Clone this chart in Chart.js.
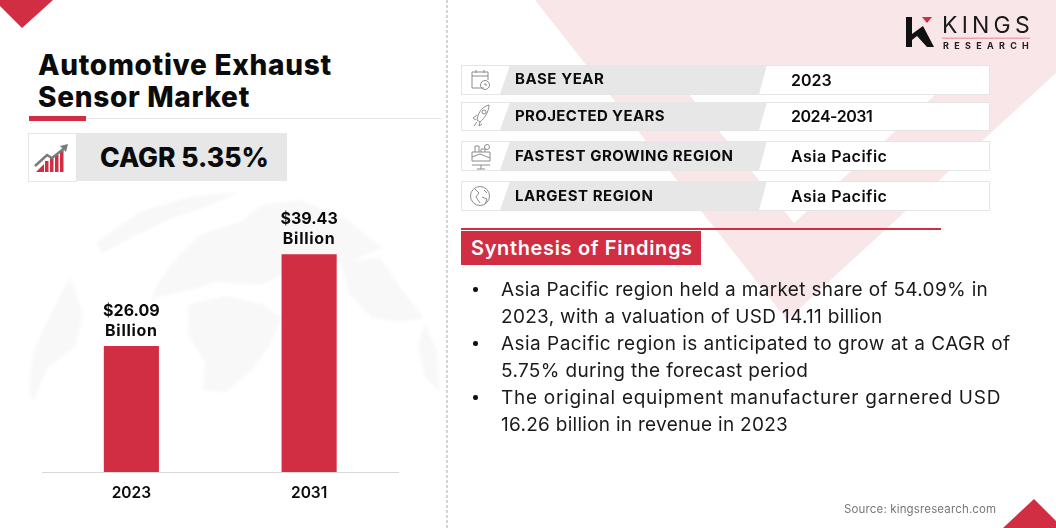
<!DOCTYPE html>
<html>
<head>
<meta charset="utf-8">
<script src="https://cdn.jsdelivr.net/npm/chart.js@4"></script>
<style>
  html, body { margin: 0; padding: 0; background: #fff; }
  body { width: 1056px; height: 528px; position: relative; overflow: hidden; font-family: Inter, sans-serif; color: #0b0b0b; }
  .abs { position: absolute; white-space: nowrap; }
  #art { position: absolute; left: 0; top: 0; }
  #chartBox { position: absolute; left: 0; top: 180px; width: 450px; height: 330px; }
  .title { left: 38px; font-size: 28px; font-weight: 800; line-height: 32px; letter-spacing: 0.7px; }
  .row { position: absolute; left: 460.5px; width: 529px; background: #fff; border: 1px solid #e5e5e5; box-sizing: border-box; }
  .key { left: 515px; font-size: 15px; font-weight: 700; line-height: 20px; letter-spacing: 0.55px; }
  .val { left: 791px; font-size: 16px; font-weight: 600; line-height: 20px; letter-spacing: 0.5px; }
  .line { left: 501px; font-size: 19px; line-height: 27px; color: #1a1a1a; }
  .dot { left: 473px; width: 4.5px; height: 4.5px; border-radius: 50%; background: #111; }
</style>
</head>
<body>
<svg id="art" width="1056" height="528" viewBox="0 0 1056 528">
  <defs><filter id="soft"><feGaussianBlur stdDeviation="1.6"/></filter></defs>
  <!-- pale background shape -->
  <polygon points="535,0 1056,0 1056,73 787,320" fill="#f9e6e8"/>
  <polygon points="666,66 967,66 805,213 794,223" fill="#fff"/>
  <!-- corner triangles -->
  <polygon points="0,0 53,0 22,28 0,6" fill="#d12d43"/>
  <polygon points="1003,528 1034,499 1063,528" fill="#d12d43"/>
  <!-- dashed divider -->
  <line x1="447" y1="0" x2="447" y2="528" stroke="#d4d4d4" stroke-width="2" stroke-dasharray="3 2"/>
  <!-- globe -->
  <g fill="#f8f8f8" filter="url(#soft)">
    <path d="M29 392 L33 352 L52 312 L70 277 L83 313 L76 345 L48 368 L33 402 Z"/>
    <path d="M97 242 L140 212 L190 197 L240 192 L205 207 L170 219 L130 238 L102 254 Z"/>
    <path d="M173 262 L200 235 L240 222 L262 205 L300 200 L345 218 L382 248 L350 262 L320 262 L290 270 L262 285 L215 282 L190 290 L158 297 L150 302 L160 280 Z"/>
    <path d="M188 305 L225 296 L262 304 L282 318 L270 345 L250 372 L225 392 L203 390 L205 362 L188 335 Z"/>
    <path d="M340 262 L380 258 L402 290 L424 318 L400 322 L372 318 L350 295 Z"/>
    <path d="M425 322 L437 352 L440 392 L425 378 L418 345 Z"/>
  </g>
  <!-- heading rule -->
  <rect x="29" y="118" width="412" height="1" fill="#e6e6e6"/>
  <rect x="29" y="116" width="57" height="5" fill="#d12d43"/>
  <!-- CAGR badge -->
  <rect x="28.5" y="133.5" width="48" height="48" fill="#fff" stroke="#e6e6e6"/>
  <rect x="77" y="133" width="210" height="48" fill="#e6e7e6"/>
  <g fill="#d12d43">
    <polygon points="36,172 44,164 44,172"/>
    <rect x="45" y="161" width="3.5" height="11"/>
    <rect x="50" y="158" width="3.5" height="14"/>
    <rect x="55" y="155" width="3.5" height="17"/>
    <rect x="60" y="150" width="3.5" height="22"/>
  </g>
  <polyline points="35,166 47,155 52,158 66,147" fill="none" stroke="#7b7b7b" stroke-width="2.5"/>
  <polygon points="60,146 68,144 66,152" fill="#7b7b7b"/>
</svg>

<div class="abs title" style="top:49px">Automotive Exhaust</div>
<div class="abs title" style="top:81px">Sensor Market</div>
<div class="abs" style="left:100px;top:139px;font-size:26.5px;font-weight:800;line-height:36px">CAGR 5.35%</div>

<div id="chartBox"><canvas id="marketChart"></canvas></div>

<!-- info rows -->
<div class="row" style="top:64.5px;height:30px"></div>
<div class="row" style="top:101.5px;height:29.5px"></div>
<div class="row" style="top:140.5px;height:30px"></div>
<div class="row" style="top:180.5px;height:30px"></div>
<svg class="abs" style="left:0;top:0" width="1056" height="528" viewBox="0 0 1056 528">
  <g fill="#e6e7e6">
    <polygon points="510,65 767,65 759,94 500,94"/>
    <polygon points="510,102 767,102 759,130 500,130"/>
    <polygon points="510,141 767,141 759,170 500,170"/>
    <polygon points="510,181 767,181 759,210 500,210"/>
  </g>
  <g fill="none" stroke="#8c8c8c" stroke-width="1">
    <!-- calendar -->
    <path d="M484 88 H472 V72 H488 V80"/><path d="M472 76 H488"/><path d="M476 70 V73 M484 70 V73"/>
    <circle cx="485" cy="85" r="4.5"/><path d="M485 83 V85 H487"/>
    <!-- rocket -->
    <path d="M477 120 C478 111 484 106 489 105 C489 111 485 118 480 122 Z"/><circle cx="484" cy="112" r="2"/>
    <path d="M477 115 L473 118 L476 120 M480 122 L479 126 L482 124 M474 126 L477 122"/>
    <!-- region -->
    <path d="M472 165 L490 165 M472 161 H490 V152 H472 Z M475 152 V146 H479 V152 M481 152 V149 H485 V152 M472 157 L480 154 L490 158"/>
    <circle cx="487" cy="147" r="2.5"/><path d="M481 165 V169 M477 169 H485"/>
    <!-- globe icon -->
    <circle cx="480" cy="196" r="9.5"/>
    <path d="M474 188 L479 193 L476 197 L480 203 M484 190 L487 193 M482 197 L487 199 L485 204"/>
  </g>
</svg>
<div class="abs key" style="top:69px">BASE YEAR</div>
<div class="abs val" style="top:70px;letter-spacing:0">2023</div>
<div class="abs key" style="top:106px;letter-spacing:0.35px">PROJECTED YEARS</div>
<div class="abs val" style="top:106px;letter-spacing:-0.45px">2024-2031</div>
<div class="abs key" style="top:146px">FASTEST GROWING REGION</div>
<div class="abs val" style="top:146px">Asia Pacific</div>
<div class="abs key" style="top:186px">LARGEST REGION</div>
<div class="abs val" style="top:186px">Asia Pacific</div>

<!-- logo -->
<svg class="abs" style="left:0;top:0" width="1056" height="528" viewBox="0 0 1056 528">
  <rect x="906" y="17" width="6" height="30" fill="#111"/>
  <polygon points="912,34 923,26 934,47 927,47 917,36 912,40" fill="#111"/>
  <polygon points="922,17 932,17 927,23" fill="#d12d43"/>
  <rect x="942" y="37.5" width="88" height="1.5" fill="#e8a7b0"/>
</svg>
<div class="abs" style="left:942px;top:11px;font-size:23px;font-weight:400;line-height:28px;letter-spacing:4.2px;color:#1a1a1a">KINGS</div>
<div class="abs" style="left:943px;top:40px;font-size:9px;font-weight:700;line-height:12px;letter-spacing:5.3px;color:#222">RESEARCH</div>

<!-- findings -->
<div class="abs" style="left:461px;top:228px;width:480px;height:2px;background:#d12d43"></div>
<div class="abs" style="left:461px;top:231px;width:240px;height:34px;background:#d12d43"></div>
<div class="abs" style="left:471px;top:231px;font-size:20px;font-weight:600;line-height:34px;color:#fff;letter-spacing:0.65px">Synthesis of Findings</div>
<div class="abs dot" style="top:287px"></div>
<div class="abs line" style="top:276px;letter-spacing:0.33px">Asia Pacific region held a market share of 54.09% in</div>
<div class="abs line" style="top:303px;letter-spacing:0.3px">2023, with a valuation of USD 14.11 billion</div>
<div class="abs dot" style="top:341px"></div>
<div class="abs line" style="top:330px;letter-spacing:0.46px">Asia Pacific region is anticipated to grow at a CAGR of</div>
<div class="abs line" style="top:357px;letter-spacing:0.34px">5.75% during the forecast period</div>
<div class="abs dot" style="top:395px"></div>
<div class="abs line" style="top:384px;letter-spacing:0.73px">The original equipment manufacturer garnered USD</div>
<div class="abs line" style="top:411px;letter-spacing:0.28px">16.26 billion in revenue in 2023</div>
<div class="abs" style="left:844px;top:502px;font-size:11.5px;line-height:14px;color:#777;letter-spacing:0.15px">Source: kingsresearch.com</div>

<script>
const years = ['2023', '2031'];
const marketValues = [26.09, 39.43];
const valueUnit = 'Billion';
// the bars in the picture are not drawn from zero, so the hidden axis starts above it
const axisMin = 7.8;
const axisMax = 50.2;

// two line label above each bar
const barLabels = {
    id: 'barLabels',
    afterDatasetsDraw(chart) {
        const { ctx } = chart;
        ctx.save();
        ctx.font = '700 16px Inter, sans-serif';
        ctx.fillStyle = '#0b0b0b';
        ctx.textAlign = 'center';
        ctx.textBaseline = 'middle';
        chart.getDatasetMeta(0).data.forEach((bar, i) => {
            ctx.letterSpacing = '0px';
            ctx.fillText('$' + marketValues[i].toFixed(2), bar.x, bar.y - 35);
            ctx.letterSpacing = '0.7px';
            ctx.fillText(valueUnit, bar.x, bar.y - 15);
        });
        ctx.restore();
    },
};

new Chart(document.getElementById('marketChart'), {
    type: 'bar',
    data: {
        labels: years,
        datasets: [{
            data: marketValues,
            backgroundColor: '#d12d43',
            barPercentage: 0.31,
            categoryPercentage: 1,
        }],
    },
    options: {
        responsive: true,
        maintainAspectRatio: false,
        animation: false,
        layout: { padding: { left: 42.5, right: 52, top: 0, bottom: 0 } },
        plugins: { legend: { display: false }, tooltip: { enabled: false } },
        scales: {
            x: {
                grid: { display: false },
                border: { color: '#d9d9d9', width: 1 },
                ticks: { color: '#0b0b0b', padding: 4, font: { family: 'Inter, sans-serif', size: 15.5, weight: '600' } },
                afterFit: (scale) => { scale.height = 38; },
            },
            y: { display: false, min: axisMin, max: axisMax },
        },
    },
    plugins: [barLabels],
});
</script>
</body>
</html>
